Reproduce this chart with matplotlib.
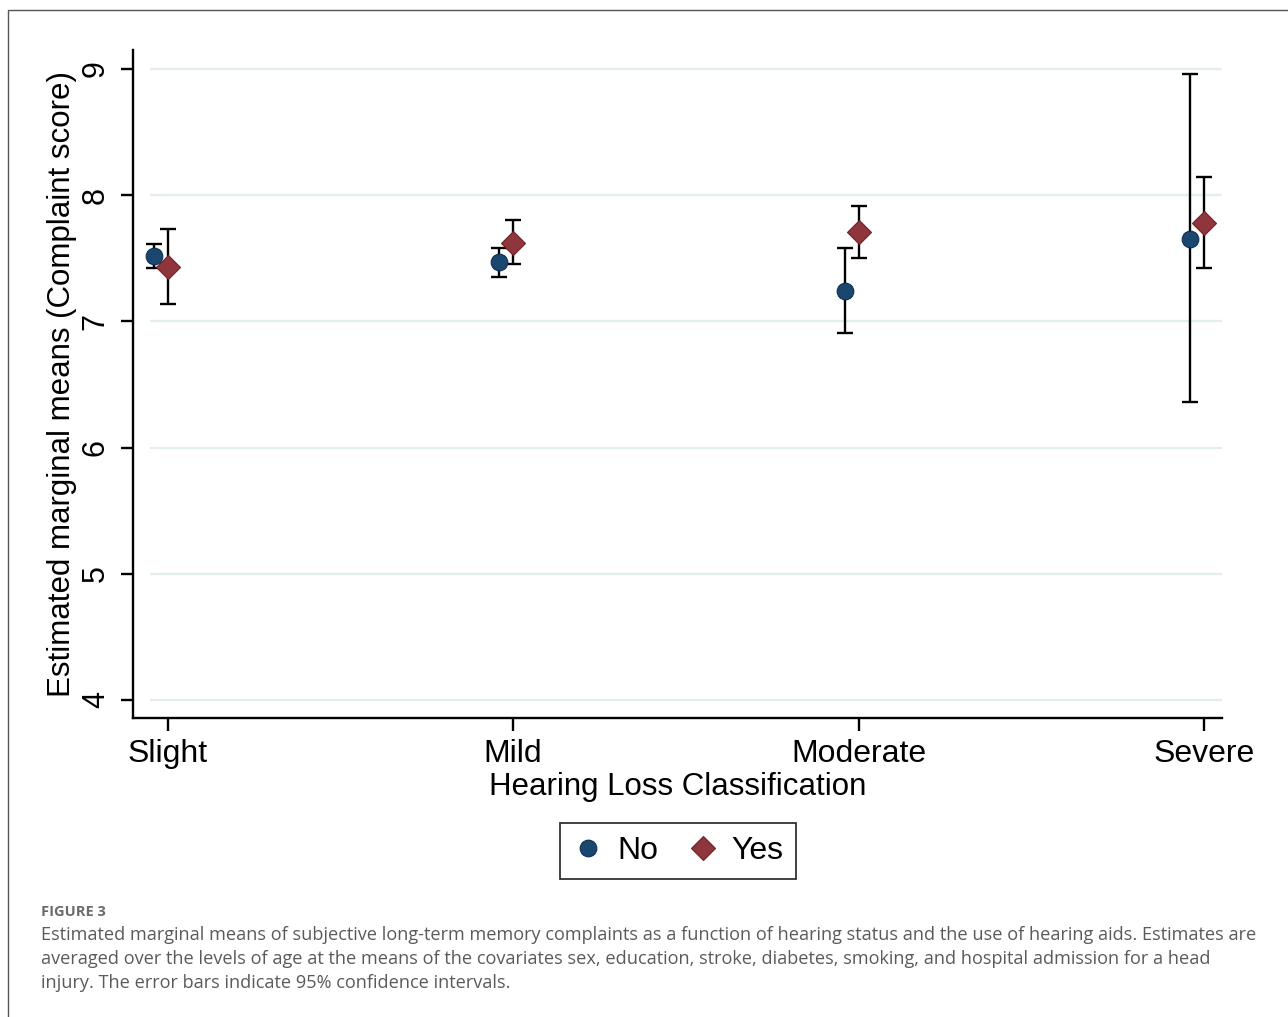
import matplotlib.pyplot as plt
import numpy as np
from matplotlib.patches import Rectangle

categories = ['Slight', 'Mild', 'Moderate', 'Severe']

no_mean = [7.52, 7.47, 7.24, 7.65]
no_lo = [7.42, 7.35, 6.91, 6.36]
no_hi = [7.61, 7.58, 7.58, 8.96]

yes_mean = [7.43, 7.62, 7.71, 7.78]
yes_lo = [7.14, 7.455, 7.50, 7.42]
yes_hi = [7.73, 7.80, 7.91, 8.14]

yticks = [4, 5, 6, 7, 8, 9]

caption_head = 'FIGURE 3'
caption_lines = [
    'Estimated marginal means of subjective long-term memory complaints as a function of hearing status and the use of hearing aids. Estimates are',
    'averaged over the levels of age at the means of the covariates sex, education, stroke, diabetes, smoking, and hospital admission for a head',
    'injury. The error bars indicate 95% confidence intervals.',
]

W, H = 1288, 1017
fig = plt.figure(figsize=(W / 100, H / 100), dpi=100)
plt.rcParams['font.family'] = ['Liberation Sans', 'DejaVu Sans']

# outer grey frame of the figure panel
fig.patches.append(Rectangle((8 / W, -0.05), 1.2, 1 - 10 / H + 0.05,
                             transform=fig.transFigure, fill=False,
                             edgecolor='#555555', linewidth=1.0))

ax = fig.add_axes([133 / W, 1 - 718 / H, (1222 - 133) / W, (718 - 50) / H])

x = np.arange(1, len(categories) + 1)
xno = x - 0.04
xyes = x

navy = '#1a476f'
maroon = '#90353b'

no_err = [np.array(no_mean) - np.array(no_lo), np.array(no_hi) - np.array(no_mean)]
yes_err = [np.array(yes_mean) - np.array(yes_lo), np.array(yes_hi) - np.array(yes_mean)]

ax.errorbar(xno, no_mean, yerr=no_err, fmt='none', ecolor='black',
            elinewidth=1.7, capsize=6, capthick=1.7, zorder=2)
ax.errorbar(xyes, yes_mean, yerr=yes_err, fmt='none', ecolor='black',
            elinewidth=1.7, capsize=6, capthick=1.7, zorder=2)
ax.plot(xno, no_mean, 'o', color=navy, markersize=12, markeredgecolor='#0f3050',
        markeredgewidth=0.8, linestyle='none', label='No', zorder=3)
ax.plot(xyes, yes_mean, 'D', color=maroon, markersize=12, markeredgecolor='#6e2228',
        markeredgewidth=0.8, linestyle='none', label='Yes', zorder=3)

ax.set_xlim(0.90, 4.052)
ax.set_ylim(3.857, 9.15)
ax.set_yticks(yticks)
ax.set_yticklabels([str(t) for t in yticks], rotation=90, va='center', fontsize=22)
ax.set_xticks(x)
ax.set_xticklabels(categories, fontsize=23)

for t in yticks:
    ax.plot([0.95, 4.052], [t, t], color='#e3edef', linewidth=1.6, zorder=0,
            solid_capstyle='butt')

for side in ['top', 'right']:
    ax.spines[side].set_visible(False)
for side in ['left', 'bottom']:
    ax.spines[side].set_linewidth(1.7)
ax.spines['left'].set_bounds(3.857, 9.15)
ax.tick_params(axis='both', length=9, width=1.7, color='black')
ax.tick_params(axis='y', pad=7)
ax.tick_params(axis='x', pad=6)

ax.set_xlabel('Hearing Loss Classification', fontsize=22.5, labelpad=2)
ax.set_ylabel('Estimated marginal means (Complaint score)', fontsize=22.5, labelpad=3)

leg = fig.legend(loc='center', bbox_to_anchor=(678 / W, 1 - 851 / H), ncol=2,
                 fontsize=23, frameon=True, fancybox=False, edgecolor='black',
                 handletextpad=0.4, columnspacing=0.9, borderpad=0.4,
                 handlelength=1.0)
leg.get_frame().set_linewidth(1.3)

fig.text(41 / W, 1 - 912 / H, caption_head, fontsize=10.5, fontweight='bold',
         color='#6b6b6b', family=['Open Sans', 'DejaVu Sans'], va='center')
for i, line in enumerate(caption_lines):
    fig.text(41 / W, 1 - (935 + 24 * i) / H, line, fontsize=13.1,
             color='#5a5a5a', family=['Open Sans', 'DejaVu Sans'], va='center')

fig.savefig('out.png', dpi=100)
